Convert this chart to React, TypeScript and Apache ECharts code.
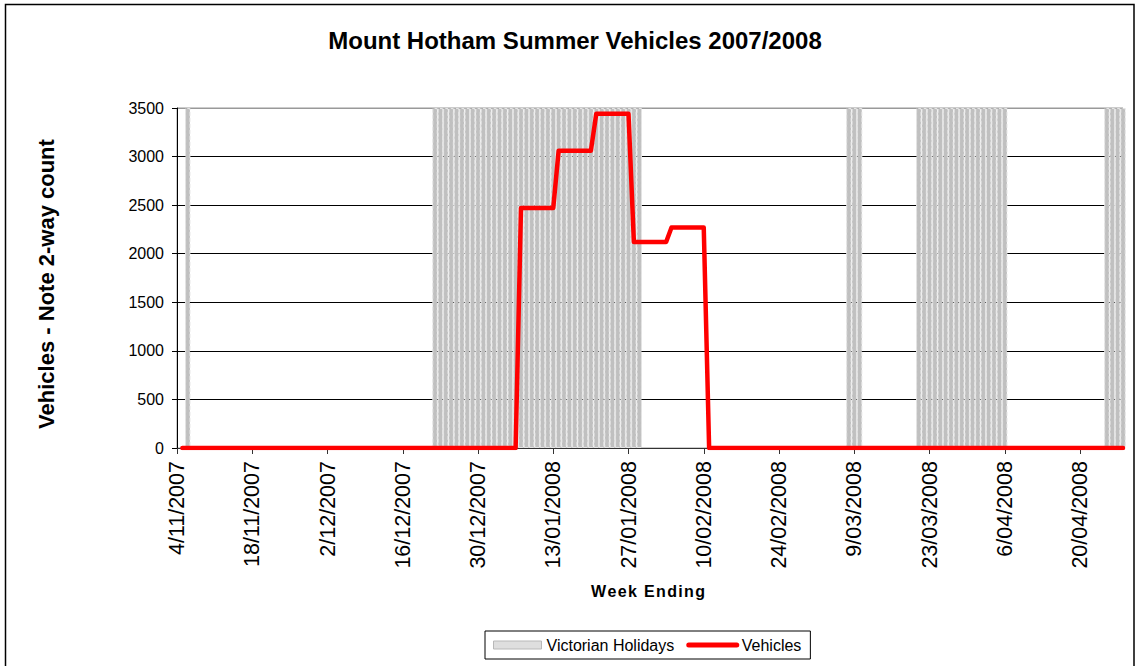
import React, { useEffect, useRef } from "react";
import * as echarts from "echarts";

// ---- data ----
const axisStart = "4/11/2007";
const axisEnd = "28/04/2008";
const firstWeekStart = "5/11/2007"; // Monday of week ending 11/11/2007
const weekEndings = [
  "11/11/2007", "18/11/2007", "25/11/2007", "2/12/2007", "9/12/2007", "16/12/2007",
  "23/12/2007", "30/12/2007", "6/01/2008", "13/01/2008", "20/01/2008", "27/01/2008",
  "3/02/2008", "10/02/2008", "17/02/2008", "24/02/2008", "2/03/2008", "9/03/2008",
  "16/03/2008", "23/03/2008", "30/03/2008", "6/04/2008", "13/04/2008", "20/04/2008",
  "27/04/2008", "4/05/2008",
];
const vehiclesWeekly = [
  0, 0, 0, 0, 0, 0,
  0, 0, 0, 2470, 3060, 3440,
  2120, 2270, 0, 0, 0, 0,
  0, 0, 0, 0, 0, 0,
  0, 0,
];
const holidayRanges: [string, string][] = [
  ["6/11/2007", "6/11/2007"],
  ["22/12/2007", "29/01/2008"],
  ["8/03/2008", "10/03/2008"],
  ["21/03/2008", "6/04/2008"],
  ["25/04/2008", "28/04/2008"],
];
const holidayLevel = 3500;
const yTicks = [0, 500, 1000, 1500, 2000, 2500, 3000, 3500];

// ---- helpers ----
const DAY = 86400000;
function parse(s: string): number {
  const [d, m, y] = s.split("/").map(Number);
  return Date.UTC(y, m - 1, d);
}
function fmt(t: number): string {
  const dt = new Date(t);
  const d = dt.getUTCDate();
  const m = dt.getUTCMonth() + 1;
  return `${d}/${m < 10 ? "0" + m : m}/${dt.getUTCFullYear()}`;
}

const days: number[] = [];
for (let t = parse(axisStart); t <= parse(axisEnd); t += DAY) days.push(t);
const categories = days.map(fmt);

const weekStartT = parse(firstWeekStart);
const vehiclesDaily = days.map((t) => {
  if (t < weekStartT) return null;
  const w = Math.floor((t - weekStartT) / (7 * DAY));
  return w < vehiclesWeekly.length ? vehiclesWeekly[w] : null;
});
const holidaysDaily = days.map((t) =>
  holidayRanges.some(([a, b]) => t >= parse(a) && t <= parse(b)) ? holidayLevel : null
);

const FONT = "'Liberation Sans', Arial, sans-serif";
const HS = "\u200A";

export default function App() {
  const ref = useRef<HTMLDivElement>(null);
  useEffect(() => {
    if (!ref.current) return;
    const chart = echarts.init(ref.current, null, { renderer: "svg" });
    chart.setOption({
      animation: false,
      backgroundColor: "#ffffff",
      textStyle: { fontFamily: FONT },
      grid: {
        left: 177,
        right: 13,
        top: 108,
        bottom: 218,
        show: true,
        borderColor: "#999999",
        borderWidth: 1,
      },
      graphic: [
        {
          type: "rect",
          shape: { x: 5.5, y: 4.5, width: 1128.5, height: 700 },
          style: { fill: "none", stroke: "#000", lineWidth: 1.5 },
          silent: true,
        },
        {
          type: "text",
          x: 575,
          y: 40,
          style: {
            text: "Mount Hotham Summer Vehicles 2007/2008",
            font: `bold 24px ${FONT}`,
            fill: "#000",
            align: "center",
            verticalAlign: "middle",
          },
        },
        {
          type: "text",
          x: 46,
          y: 284,
          rotation: Math.PI / 2,
          style: {
            text: "Vehicles - Note 2-way count",
            font: `bold 22px ${FONT}`,
            fill: "#000",
            align: "center",
            verticalAlign: "middle",
          },
        },
        {
          type: "text",
          x: 648,
          y: 591,
          style: {
            text: "Week Ending".split("").join(HS),
            font: `bold 16px ${FONT}`,
            fill: "#000",
            align: "center",
            verticalAlign: "middle",
          },
        },
      ],
      legend: {
        left: 485,
        top: 631,
        orient: "horizontal",
        padding: [6, 9, 6, 8],
        itemGap: 12,
        itemWidth: 48,
        itemHeight: 8,
        borderColor: "#000",
        borderWidth: 1,
        backgroundColor: "#fff",
        textStyle: { fontSize: 16, color: "#000", fontFamily: FONT },
        data: [
          {
            name: "Victorian Holidays",
            icon: "rect",
            itemStyle: { color: "#dedede", borderColor: "#b8b8b8", borderWidth: 1, borderType: "solid" },
          },
          {
            name: "Vehicles",
            itemStyle: { color: "rgba(0,0,0,0)", borderColor: "rgba(0,0,0,0)", borderWidth: 0, opacity: 0 },
            lineStyle: { color: "#ff0000", width: 5, cap: "round" },
          },
        ],
      },
      xAxis: {
        type: "category",
        data: categories,
        boundaryGap: false,
        axisLine: { lineStyle: { color: "#333", width: 1 } },
        axisTick: { interval: 13, length: 6, lineStyle: { color: "#333" } },
        axisLabel: {
          interval: 13,
          rotate: 90,
          fontSize: 21.5,
          color: "#000",
          margin: 13,
          fontFamily: FONT,
        },
        splitLine: { show: false },
      },
      yAxis: {
        type: "value",
        min: 0,
        max: 3500,
        interval: 500,
        axisLine: { show: true, lineStyle: { color: "#000", width: 1 } },
        axisTick: { show: true, length: 5, lineStyle: { color: "#000" } },
        axisLabel: {
          fontSize: 16,
          color: "#000",
          margin: 13,
          fontFamily: FONT,
          formatter: (v: number) => (yTicks.includes(v) ? String(v) : ""),
        },
        splitLine: {
          show: true,
          lineStyle: {
            color: ["#000", "#000", "#000", "#000", "#000", "#000", "#000", "#999"],
            width: 1,
          },
        },
      },
      series: [
        {
          name: "Victorian Holidays",
          type: "bar",
          data: holidaysDaily,
          barCategoryGap: "0%",
          barGap: "0%",
          clip: true,
          itemStyle: {
            color: "#c0c0c0",
            borderColor: "#e4e4e4",
            borderWidth: 1,
            borderType: "dashed",
          },
          z: 1,
        },
        {
          name: "Vehicles",
          type: "line",
          data: vehiclesDaily,
          symbol: "none",
          clip: true,
          lineStyle: { color: "#ff0000", width: 4.5, cap: "round", join: "round" },
          itemStyle: { color: "#ff0000" },
          z: 3,
        },
      ],
    });
    return () => chart.dispose();
  }, []);
  return (
    <div
      ref={ref}
      style={{ position: "fixed", left: 0, top: 0, width: 1136, height: 666 }}
    />
  );
}
